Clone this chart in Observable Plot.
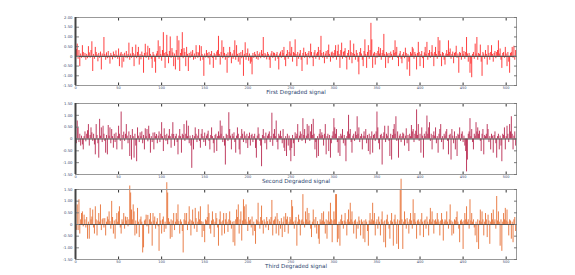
<!DOCTYPE html>
<html>
<head>
<meta charset="utf-8">
<script src="https://cdn.jsdelivr.net/npm/d3@7"></script>
<script src="https://cdn.jsdelivr.net/npm/@observablehq/plot@0.6"></script>
<style>
  html, body { margin: 0; padding: 0; background: #fff; }
  #chart svg { display: block; }
</style>
</head>
<body>
<div id="chart"></div>
<script>
const xTicks = [0, 50, 100, 150, 200, 250, 300, 350, 400, 450, 500];
const yTicksFirst = [-1.5, -1, -0.5, 0, 0.5, 1, 1.5, 2];
const yTicksOther = [-1.5, -1, -0.5, 0, 0.5, 1, 1.5];
const labels = ["First Degraded signal", "Second Degraded signal", "Third Degraded signal"];

const first = [
.2,.35,.63,-.15,.3,-.53,.12,-.1,.55,.2,-.08,.15,-.2,.1,-.12,.5,.18,-.1,.3,.75,-.78,.1,-.15,.46,.2,.08,-.28,.15,-.1,.22,-.7,.12,
-.05,.97,.1,-.2,.18,-.12,.25,-.08,-.4,.15,.05,-.18,.22,.1,-.1,.28,.06,-.15,.38,-.53,.12,.2,-.6,.1,-.3,.16,-.08,.25,-.12,.1,.68,-.2,
.12,-.1,.46,.15,-.53,.08,.58,-.12,.2,.46,-.45,.1,-.18,.22,.05,-.87,.15,.62,-.1,.18,.52,-.2,.4,.1,-.15,-.62,.2,.08,-.3,-.87,.12,.25,
.8,-.15,.5,.1,-.25,.3,1.22,.15,-.62,.2,1.08,.1,-.38,.25,1.0,-.1,.4,.18,-.53,.12,-.7,.3,1.03,-.2,.8,-.78,.15,.35,1.22,-.12,.4,.2,
-.53,.46,.1,-.78,.15,-.1,.22,.08,.3,-.2,.12,-.15,.55,.2,-.1,.18,.55,-.25,.5,.1,-.2,-1.03,.12,-.08,.3,.15,-.12,.2,-.45,.1,.25,-.1,
-.62,.15,.08,-.2,.22,.3,1.03,.1,-.45,.2,.8,-.12,.46,.15,-.2,.1,-.87,.18,-.1,.46,.2,-.38,.12,-.15,.3,.8,-.2,.55,.1,-.3,.15,-.45,
.2,-.12,.3,-1.03,.1,.7,-.2,.15,.38,-.25,.12,-.4,-.3,-.95,.15,-.1,.2,.08,-.15,.25,-.2,.1,.18,-.12,.3,.1,.97,-.1,.15,.08,-.18,.2,
.1,-.2,-.62,.12,.25,-.1,.18,.15,-.25,.1,.2,-.15,-.7,.12,.22,-.1,.3,.15,.46,-.2,-.53,.1,.3,-.15,.2,.75,.12,.46,-.3,.2,.15,.85,
.1,-.53,.2,-.15,.12,.3,-.2,-.78,.15,.42,-.1,.2,.1,-.45,.15,.25,-.12,.63,.2,-.1,-.53,.18,.3,-.15,.12,.2,.46,-.2,.3,1.03,.15,-.1,
.2,-.38,.12,.25,-.15,.3,.58,.1,-.3,.18,.22,-.12,.15,.3,.55,-.2,.25,.58,.1,-.62,.3,.68,-.15,.2,.25,.4,-.1,-.7,.15,.3,-.2,.8,
.2,-.38,.15,.63,.1,-.2,.3,.15,-.3,-.95,.2,.4,.12,-.2,-.53,.25,.85,.1,-.62,.2,.55,-.15,.3,1.7,.85,-.62,.12,.2,-.45,.15,-.1,.25,
.46,.12,.4,-.2,.15,.3,1.13,.1,-.62,.2,.12,-.38,.15,-.1,.22,.1,-.2,.3,.15,.8,.2,.46,-.1,-.53,.12,.25,-.15,-.38,.1,.2,-.12,.42,
.15,-.7,.1,-.3,-1.03,.2,.12,.46,.38,-.15,.2,.1,-.7,.15,.72,.2,-.53,.1,.25,-.12,-.62,.18,.46,.1,.72,-.2,.15,.3,-.1,.2,.55,.12,
-.53,.2,.46,.1,-.15,.97,.25,.8,.1,-.53,.2,.15,-.2,-.45,.12,.3,.1,.8,.2,.38,-.15,.1,.22,-.38,.15,.2,.52,-.1,.12,-.87,.2,.15,
-.2,.46,.1,.25,-.15,.2,.97,.12,-.3,.15,-.87,-.4,-1.1,.1,.2,-.15,.63,.12,.97,-.2,.15,.1,.58,-.3,-1.03,.2,.12,-.15,.3,.1,-.45,.55,
.15,-.2,.2,.55,.1,-.3,.15,.25,-.12,.2,.3,.8,.12,.38,-.2,-.62,.15,.2,-.1,.46,.12,-.53,.2,-.3,-.87,.15,.2,.46,-.1,.52,-.2,.3
];

const second = [
.3,-.2,.76,.45,-.15,.2,-.3,.12,-.25,-.46,.1,.3,-.12,.2,.35,.61,-.3,.15,.47,.26,-.1,.2,-.25,-.67,.61,.15,-.2,-.81,.83,.12,.47,-.15,
.54,.2,-.1,-.6,.15,-.67,.57,.12,.47,-.2,.4,.1,-.39,.2,-.15,.25,-.46,.1,.54,.2,-.1,1.14,-.46,.15,.29,-.1,.2,.61,.12,-.2,.3,-.74,
.15,-.89,.4,.1,-.81,.2,-.3,-.96,.47,.12,-.15,.26,.1,.3,-.2,.15,-.46,.43,.1,.4,-.12,.54,.2,-.6,.1,-.15,.25,-.46,.26,.1,.19,-.2,
.12,.3,-.15,.2,.69,.1,-.53,.43,.15,-.1,.2,-.24,.12,.4,.1,-.39,.2,.69,.19,-.31,.1,.2,-.15,-.67,.12,.4,.1,-.6,.2,.15,.61,-.1,
.2,.76,.1,.54,-.2,.12,-.3,-1.24,.15,-.46,.1,.47,.2,-.15,.12,.4,-.1,-.39,.2,.4,.1,-.15,.25,-.31,.12,.2,.33,-.1,-.46,.15,.47,.1,
-.2,-.6,.15,.2,-.53,.1,.3,.12,.76,.2,.54,-.15,.1,-.3,-1.1,.2,.15,-.1,1.11,.4,.12,-.46,.2,.1,.26,-.15,-.6,.12,.47,.2,-.46,-.67,
.1,.4,.2,-.15,.3,.12,-.2,.2,-.4,.1,.25,-.3,.15,.2,-.15,.1,.2,-.4,-.81,.12,.47,.2,-.1,-.3,-1.17,.15,.4,.1,-.2,.25,-.46,.12,
.2,.3,-.15,.1,1.09,-.31,.2,.4,.1,.76,-.15,-.46,.2,.12,.33,.1,-.2,.4,-.39,-.53,.1,-.74,.2,-.3,.12,-.5,-.96,-.4,.15,-.2,-.74,.26,
.1,.2,.61,-.15,.12,.3,.2,-.1,.86,.15,.4,-.2,.12,.61,.2,.54,-.1,.3,.61,.15,.83,.2,-.46,-.15,-.81,.1,-.74,.2,.4,.12,.26,.15,
-.3,.2,.61,-.67,.1,.2,-.53,.15,-.81,-.2,.12,.3,.86,.47,.2,.4,-.15,-.6,.1,-.74,.2,.12,.4,-.2,.15,-.3,-.96,.1,.3,1.0,.2,.4,
-.15,-.6,.12,.2,-.1,.3,.15,.94,.2,.47,-.15,.1,.2,-.46,.12,.3,.1,.4,-.2,.15,-.53,.2,-.67,.1,.3,-.6,.15,.2,-.1,.3,1.14,.47,
-.2,-.46,.15,.2,-1.1,.1,.26,.54,-.15,.2,.12,.54,-.1,-.74,.2,-.89,.15,.4,.61,.2,.94,-.1,.3,-.81,.12,.2,-.15,.1,.25,.2,-.3,.12,
.43,-.2,.15,-.53,.2,.1,.57,.3,.4,-.15,.2,.33,1.23,.15,.61,-.1,.2,-.6,.47,.12,-.81,.2,.1,.3,.97,.2,.47,.69,-.1,.2,-.46,.15,
.3,.12,.47,-.2,.1,-.6,.2,.4,.61,-.15,.1,-.46,.2,.12,.3,.4,-.1,-.67,.15,.2,-.89,.4,.12,-.2,.3,-.46,.1,-.74,.2,.15,.47,-.1,
.2,.3,-.15,.12,-.3,-.53,-1.39,-.89,.2,.3,.86,.1,.4,-.15,-.46,.2,.12,.69,.3,.47,.2,.33,-.1,-.53,.2,.4,-.67,.15,.1,.2,.61,.4,
-.15,.1,-.46,.2,.12,-.6,.15,.3,-.2,-.81,.1,.2,-.46,.12,-.3,-.96,.2,.15,.47,-.46,.1,.54,.2,-.15,.61,.3,.94,.2,-.46,.12,.3,-.3
];

const third = [
.4,-.25,.84,-.26,1.06,-.41,.2,.47,.54,-.1,.4,.2,-.15,.3,-.63,.1,-.63,.69,.2,.32,.62,-.15,-.41,.76,.2,-.49,.15,.47,.1,.84,-.26,.2,
.25,-.15,.25,-.49,.1,.32,.2,.54,.12,-.2,.99,.3,-.41,.15,-.63,.2,.47,.1,.54,.76,-.15,-.41,.2,.1,.47,-.2,.32,.15,.3,-.1,.2,1.65,
1.35,.62,.2,.84,.54,-.49,.15,-.41,.69,.1,-.56,.2,.32,.1,-1.22,-1.0,.15,.2,.4,-.1,.39,-.41,.2,.47,.1,-.93,.47,.15,.32,-.2,.1,.25,
-.1,-1.15,.47,.15,-.41,.2,.32,-.34,.1,-.2,1.79,1.35,.25,.1,-.63,.2,-.56,.15,.47,-.26,.1,.47,.2,.84,.12,-.41,.2,.1,-.3,-1.22,.2,.47,
.15,.47,-.26,.1,.76,.2,-.49,.15,.62,.1,-.2,.69,.25,-.34,.1,.54,.2,.76,.12,-.56,.1,-.3,-.78,.2,.15,.3,.84,.47,-.2,-.41,.15,.54,
.2,-.56,.1,.47,.25,-.15,-.93,.2,.54,.1,-.49,.15,.47,-.41,.2,.47,.1,-.34,.2,.54,.15,-.2,.1,-.78,.12,-.93,.2,.62,.3,.84,-.41,.2,
.54,-.71,.15,1.06,.76,.2,.84,.1,-.3,.3,.15,.2,-.15,.32,-.49,.1,-.3,-.85,.2,.15,.91,.1,-.2,.3,.79,.15,-.41,.2,.1,-.15,.3,.12,
-.26,.2,.1,.3,1.03,-.49,.15,.2,.32,-.41,.47,.2,-.49,.12,-.2,.25,-.56,.1,.32,-.34,.47,.2,.32,-.41,.1,.3,.2,1.03,.76,.1,-.2,.15,
.3,-.93,.1,.4,.2,-.49,.15,.2,1.28,.1,-.15,.54,.2,.69,.1,.47,.15,-.2,-.56,.1,.62,.2,-.15,.3,-.41,.12,-.63,-.85,.2,.1,.47,.15,
.54,.1,-.41,.2,-.63,.15,.54,.1,.91,.2,-.78,.15,.54,.2,1.28,1.28,-.78,-.63,.1,-.93,.2,.4,.12,-.2,.15,.47,.1,-.49,.2,.62,.1,.91,
.2,.54,.1,-.41,.15,.2,-.63,.1,-.2,.32,.15,-.49,.2,.1,-.63,.15,-.78,.2,.1,-.3,-.93,.15,.47,.1,.2,.91,.15,.47,-.49,.1,.2,-.2,
.32,.1,-.49,.2,.54,.1,-.78,.15,-1.0,.2,.4,.1,-.2,-.63,.15,.47,.1,-.93,.2,.4,.1,-.85,.2,-1.07,.15,1.5,1.94,.2,-1.07,.1,.54,.2,
-.2,.25,.1,-.41,.2,.47,.15,-.2,1.06,.2,.47,.1,-.63,.15,.2,.1,-.49,.2,.47,.1,-.56,.15,.2,-.2,.32,.1,-.49,.2,.69,.1,.54,.2,
-.41,.15,.2,.1,.47,.2,.1,-.49,.15,.47,.2,-.71,.1,.2,.15,.54,.1,-.2,.2,.84,.15,-.49,.1,-.41,.2,.15,.3,.54,.1,-.2,-.78,.15,
.2,.1,-1.07,.15,.47,.2,.76,.1,.2,-.2,1.06,.15,.47,.1,.2,-.15,-.49,.1,-.78,.2,-1.07,.15,.62,.1,.54,.2,-.49,.1,.47,.2,-.56,.4,
.15,-.85,.1,.47,.2,.62,.1,.2,-.2,1.2,.15,.54,.1,-.93,.2,-1.15,.1,.47,.2,.69,.15,.62,.1,-.49,.2,.15,-.63,.1,-.78,.2,.3,-.3
];

const seriesValues = [first, second, third];
const colors = ["#ff2a2a", "#b8284f", "#e66f34"];

const yFmt = d => d === 0 ? "0" : d.toFixed(2);

function panel(values, color, label, domain, yticks, height, mt, mb, capDy) {
  const data = values.map((v, i) => ({i, v}));
  return Plot.plot({
    width: 575, height,
    marginLeft: 75, marginRight: 59, marginTop: mt, marginBottom: mb,
    x: {domain: [0, 512]},
    y: {domain},
    style: {fontFamily: "'DejaVu Sans', sans-serif", color: "#3b4a6b", background: "transparent", overflow: "visible"},
    marks: [
      Plot.ruleX(data, {x: "i", y1: 0, y2: "v", stroke: color, strokeWidth: 0.9}),
      Plot.ruleY([0], {stroke: "#555", strokeWidth: 1.2}),
      Plot.frame({stroke: "#999"}),
      Plot.axisX({ticks: xTicks, tickSize: 0, tickPadding: 0.8, fontSize: 3.5, label: null}),
      Plot.axisX({ticks: xTicks, anchor: "bottom", tickSize: -2.5, tickFormat: () => "", label: null, stroke: "#333"}),
      Plot.axisX({ticks: xTicks, anchor: "top", tickSize: -2.5, tickFormat: () => "", label: null, stroke: "#333"}),
      Plot.axisY({ticks: yticks, tickSize: 0, tickPadding: 3, fontSize: 3.8, tickFormat: yFmt, label: null}),
      Plot.axisY({ticks: yticks, anchor: "left", tickSize: -4, tickFormat: () => "", label: null, stroke: "#888"}),
      Plot.axisY({ticks: yticks, anchor: "right", tickSize: -3, tickFormat: () => "", label: null, stroke: "#777"}),
      Plot.ruleX([0], {stroke: "#444", strokeWidth: 2}),
      Plot.text([label], {text: d => d, frameAnchor: "bottom", dy: capDy, fontSize: 5.6, fill: "#2b3f6e"})
    ]
  });
}

const chart = document.getElementById("chart");
chart.append(panel(seriesValues[0], colors[0], labels[0], [-1.5, 2], yTicksFirst, 95, 17, 10, 8));
chart.append(panel(seriesValues[1], colors[1], labels[1], [-1.5, 1.5], yTicksOther, 87, 8, 8, 8.6));
chart.append(panel(seriesValues[2], colors[2], labels[2], [-1.5, 1.5], yTicksOther, 88, 7, 11, 8));
</script>
</body>
</html>
